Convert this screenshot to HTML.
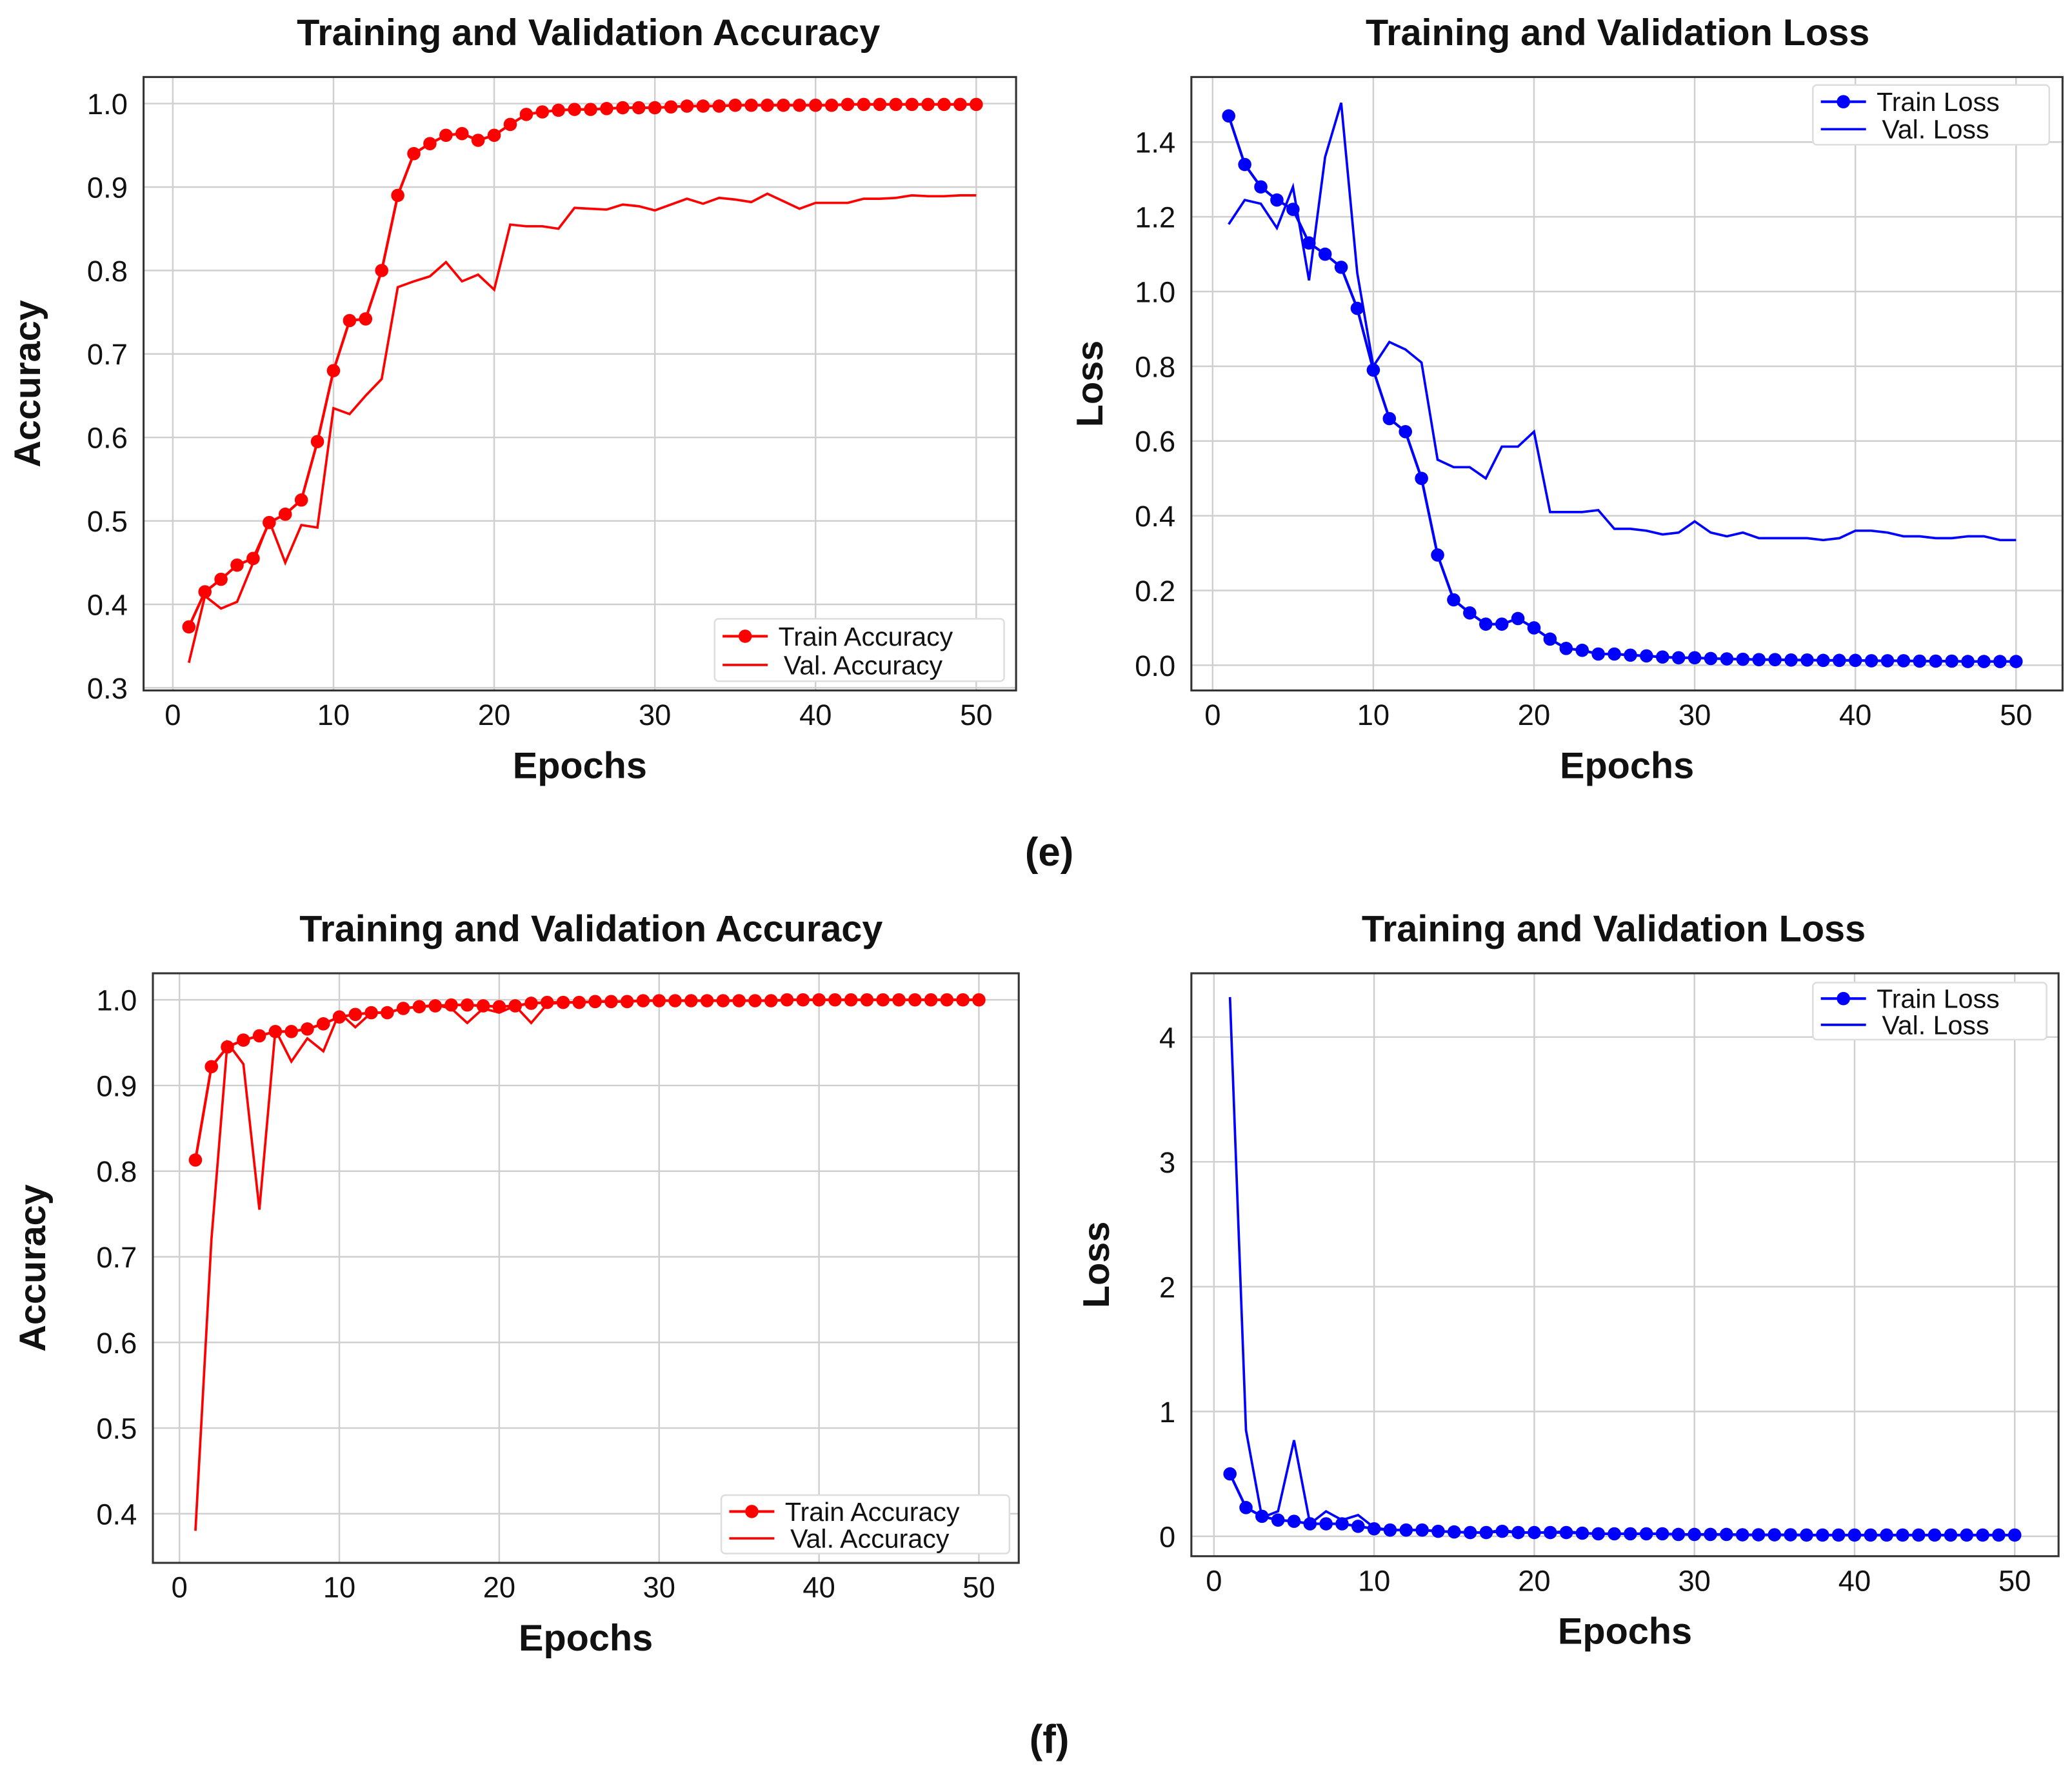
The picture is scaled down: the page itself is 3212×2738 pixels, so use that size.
<!DOCTYPE html>
<html><head><meta charset="utf-8">
<style>
html,body{margin:0;padding:0;background:#fff;}
svg{display:block;}
text{font-family:"Liberation Sans",sans-serif;}
</style></head>
<body>
<svg id="fig" width="3212" height="2738" viewBox="0 0 1560 1330" xmlns="http://www.w3.org/2000/svg"></svg>
<script>
const epochs = Array.from({length:50},(_,i)=>i+1);
const xTicks = [0,10,20,30,40,50];
const accTicksE = [0.3,0.4,0.5,0.6,0.7,0.8,0.9,1.0];
const lossTicksE = [0.0,0.2,0.4,0.6,0.8,1.0,1.2,1.4];
const accTicksF = [0.4,0.5,0.6,0.7,0.8,0.9,1.0];
const lossTicksF = [0,1,2,3,4];

const trainAccE = [0.373,0.415,0.43,0.447,0.455,0.498,0.508,0.525,0.595,0.68,0.74,0.742,0.80,0.89,0.94,0.952,0.962,0.964,0.956,0.962,0.975,0.987,0.99,0.992,0.993,0.993,0.994,0.995,0.995,0.995,0.996,0.997,0.997,0.997,0.998,0.998,0.998,0.998,0.998,0.998,0.998,0.999,0.999,0.999,0.999,0.999,0.999,0.999,0.999,0.999];
const valAccE = [0.33,0.41,0.395,0.403,0.45,0.50,0.45,0.495,0.492,0.635,0.628,0.65,0.67,0.78,0.787,0.793,0.81,0.787,0.795,0.777,0.855,0.853,0.853,0.85,0.875,0.874,0.873,0.879,0.877,0.872,0.879,0.886,0.88,0.887,0.885,0.882,0.892,0.883,0.874,0.881,0.881,0.881,0.886,0.886,0.887,0.89,0.889,0.889,0.89,0.89];
const trainLossE = [1.47,1.34,1.28,1.245,1.22,1.13,1.10,1.065,0.955,0.79,0.66,0.625,0.50,0.295,0.175,0.14,0.11,0.11,0.125,0.10,0.07,0.045,0.04,0.03,0.03,0.027,0.025,0.022,0.02,0.02,0.018,0.017,0.016,0.015,0.015,0.014,0.014,0.013,0.013,0.013,0.012,0.012,0.012,0.011,0.011,0.011,0.01,0.01,0.01,0.01];
const valLossE = [1.18,1.245,1.235,1.17,1.28,1.03,1.36,1.505,1.05,0.80,0.865,0.845,0.81,0.55,0.53,0.53,0.50,0.585,0.585,0.625,0.41,0.41,0.41,0.415,0.365,0.365,0.36,0.35,0.355,0.385,0.355,0.345,0.355,0.34,0.34,0.34,0.34,0.335,0.34,0.36,0.36,0.355,0.345,0.345,0.34,0.34,0.345,0.345,0.335,0.335];
const trainAccF = [0.813,0.922,0.945,0.953,0.958,0.963,0.963,0.966,0.972,0.98,0.983,0.985,0.985,0.99,0.992,0.993,0.994,0.994,0.993,0.992,0.993,0.996,0.997,0.997,0.997,0.998,0.998,0.998,0.999,0.999,0.999,0.999,0.999,0.999,0.999,0.999,0.999,1.0,1.0,1.0,1.0,1.0,1.0,1.0,1.0,1.0,1.0,1.0,1.0,1.0];
const valAccF = [0.38,0.72,0.95,0.925,0.755,0.965,0.928,0.955,0.94,0.985,0.968,0.985,0.985,0.99,0.992,0.994,0.99,0.973,0.99,0.985,0.993,0.973,0.995,0.997,0.997,0.998,0.998,0.998,0.999,0.999,0.999,0.999,0.999,0.999,0.999,0.999,0.999,1.0,1.0,1.0,1.0,1.0,1.0,1.0,1.0,1.0,1.0,1.0,1.0,1.0];
const trainLossF = [0.5,0.23,0.16,0.13,0.12,0.1,0.1,0.1,0.08,0.06,0.05,0.05,0.05,0.04,0.035,0.03,0.03,0.04,0.03,0.03,0.03,0.03,0.025,0.02,0.02,0.02,0.02,0.02,0.015,0.015,0.015,0.015,0.012,0.012,0.012,0.012,0.01,0.01,0.01,0.01,0.01,0.01,0.01,0.01,0.01,0.01,0.01,0.01,0.01,0.01];
const valLossF = [4.32,0.85,0.15,0.2,0.77,0.1,0.2,0.13,0.17,0.07,0.05,0.05,0.05,0.04,0.035,0.03,0.03,0.05,0.03,0.03,0.03,0.04,0.025,0.02,0.02,0.02,0.02,0.02,0.015,0.015,0.015,0.015,0.012,0.012,0.012,0.012,0.01,0.01,0.01,0.01,0.01,0.01,0.01,0.01,0.01,0.01,0.01,0.01,0.01,0.01];

const NS="http://www.w3.org/2000/svg";
const svg=document.getElementById('fig');
function mk(tag,attrs,parent,txt){const e=document.createElementNS(NS,tag);for(const k in attrs)e.setAttribute(k,attrs[k]);if(txt!==undefined)e.textContent=txt;(parent||svg).appendChild(e);return e;}

function panel(cfg){
  const g=mk('g',{});
  
  
  const xs=v=>cfg.x0+(v-0)*(cfg.x50-cfg.x0)/50;
  const ys=v=>cfg.yA+(v-cfg.vA)*(cfg.yB-cfg.yA)/(cfg.vB-cfg.vA);
  const b=cfg.box;
  // grid
  xTicks.forEach(t=>{const l=mk('line',{x1:xs(t),x2:xs(t),y1:b[1],y2:b[3],stroke:'#cfcfcf','stroke-width':1.2},g);
    });
  cfg.yTicks.forEach(t=>{const l=mk('line',{x1:b[0],x2:b[2],y1:ys(t),y2:ys(t),stroke:'#cfcfcf','stroke-width':1.2},g);
    });
  const fr=mk('rect',{x:b[0],y:b[1],width:b[2]-b[0],height:b[3]-b[1],fill:'none',stroke:'#333','stroke-width':1.5},g);
  
  // ticks
  xTicks.forEach(t=>{const tx=mk('text',{x:xs(t),y:b[3]+26,'text-anchor':'middle','font-size':22,fill:'#111'},g,String(t));
    });
  cfg.yTicks.forEach(t=>{const tx=mk('text',{x:b[0]-12,y:ys(t)+8,'text-anchor':'end','font-size':22,fill:'#111'},g,cfg.fmt(t));
    });
  const ti=mk('text',{x:cfg.tx,y:b[1]-24,'text-anchor':'middle','font-size':28,'font-weight':'bold',fill:'#111'},g,cfg.title);
  
  const xl=mk('text',{x:(b[0]+b[2])/2,y:b[3]+66,'text-anchor':'middle','font-size':28,'font-weight':'bold',fill:'#111'},g,'Epochs');
  
  const yl=mk('text',{x:0,y:0,transform:`translate(${cfg.ylx},${(b[1]+b[3])/2}) rotate(-90)`,'text-anchor':'middle','font-size':28,'font-weight':'bold',fill:'#111'},g,cfg.ylabel);
  
  // series
  const vp=mk('polyline',{points:epochs.map((e,i)=>xs(e)+','+ys(cfg.val[i])).join(' '),fill:'none',stroke:cfg.color,'stroke-width':1.8},g);
  
  const tp=mk('polyline',{points:epochs.map((e,i)=>xs(e)+','+ys(cfg.train[i])).join(' '),fill:'none',stroke:cfg.color,'stroke-width':2},g);
  
  epochs.forEach((e,i)=>{const c=mk('circle',{cx:xs(e),cy:ys(cfg.train[i]),r:5,fill:cfg.color},g);
    });
  // legend
  const L=cfg.leg;
  const lg=mk('g',{},g);
  
  mk('rect',{x:L[0],y:L[1],width:L[2],height:L[3],fill:'#fff',stroke:'#ddd','stroke-width':1.2,rx:3},lg);
  const ly1=L[1]+L[3]*0.28, ly2=L[1]+L[3]*0.74;
  mk('line',{x1:L[0]+6,x2:L[0]+40,y1:ly1,y2:ly1,stroke:cfg.color,'stroke-width':2},lg);
  mk('circle',{cx:L[0]+23,cy:ly1,r:5,fill:cfg.color},lg);
  mk('line',{x1:L[0]+6,x2:L[0]+40,y1:ly2,y2:ly2,stroke:cfg.color,'stroke-width':1.8},lg);
  const e1=mk('text',{x:L[0]+48,y:ly1+7,'font-size':20,fill:'#111'},lg,cfg.leg1);
  
  const e2=mk('text',{x:L[0]+52,y:ly2+7,'font-size':20,fill:'#111'},lg,cfg.leg2);
  
}
const f1=t=>t.toFixed(1);
panel({name:'accuracy-chart-e',box:[108,58,765,520],x0:130,x50:735,vA:1.0,yA:78,vB:0.3,yB:518,yTicks:accTicksE,fmt:f1,
  train:trainAccE,val:valAccE,color:'#ff0000',title:'Training and Validation Accuracy',tx:443,ylabel:'Accuracy',ylx:30,
  leg:[538,466,218,47],leg1:'Train Accuracy',leg2:'Val. Accuracy'});
panel({name:'loss-chart-e',box:[897,58,1553,520],x0:913,x50:1518,vA:0,yA:501,vB:1.4,yB:107,yTicks:lossTicksE,fmt:f1,
  train:trainLossE,val:valLossE,color:'#0000ff',title:'Training and Validation Loss',tx:1218,ylabel:'Loss',ylx:830,
  leg:[1365,64,178,45],leg1:'Train Loss',leg2:'Val. Loss'});
panel({name:'accuracy-chart-f',box:[115,733,767,1177],x0:135,x50:737,vA:1.0,yA:753,vB:0.4,yB:1140,yTicks:accTicksF,fmt:f1,
  train:trainAccF,val:valAccF,color:'#ff0000',title:'Training and Validation Accuracy',tx:445,ylabel:'Accuracy',ylx:34,
  leg:[543,1126,217,44],leg1:'Train Accuracy',leg2:'Val. Accuracy'});
panel({name:'loss-chart-f',box:[897,733,1550,1172],x0:914,x50:1517,vA:0,yA:1157,vB:4,yB:781,yTicks:lossTicksF,fmt:t=>String(t),
  train:trainLossF,val:valLossF,color:'#0000ff',title:'Training and Validation Loss',tx:1215,ylabel:'Loss',ylx:835,
  leg:[1365,740,176,43],leg1:'Train Loss',leg2:'Val. Loss'});
const ce=mk('text',{x:790,y:652,'text-anchor':'middle','font-size':30,'font-weight':'bold','font-family':'Liberation Serif, serif',fill:'#111'},svg,'(e)');

const cf=mk('text',{x:790,y:1320,'text-anchor':'middle','font-size':30,'font-weight':'bold','font-family':'Liberation Serif, serif',fill:'#111'},svg,'(f)');

</script>
</body></html>
